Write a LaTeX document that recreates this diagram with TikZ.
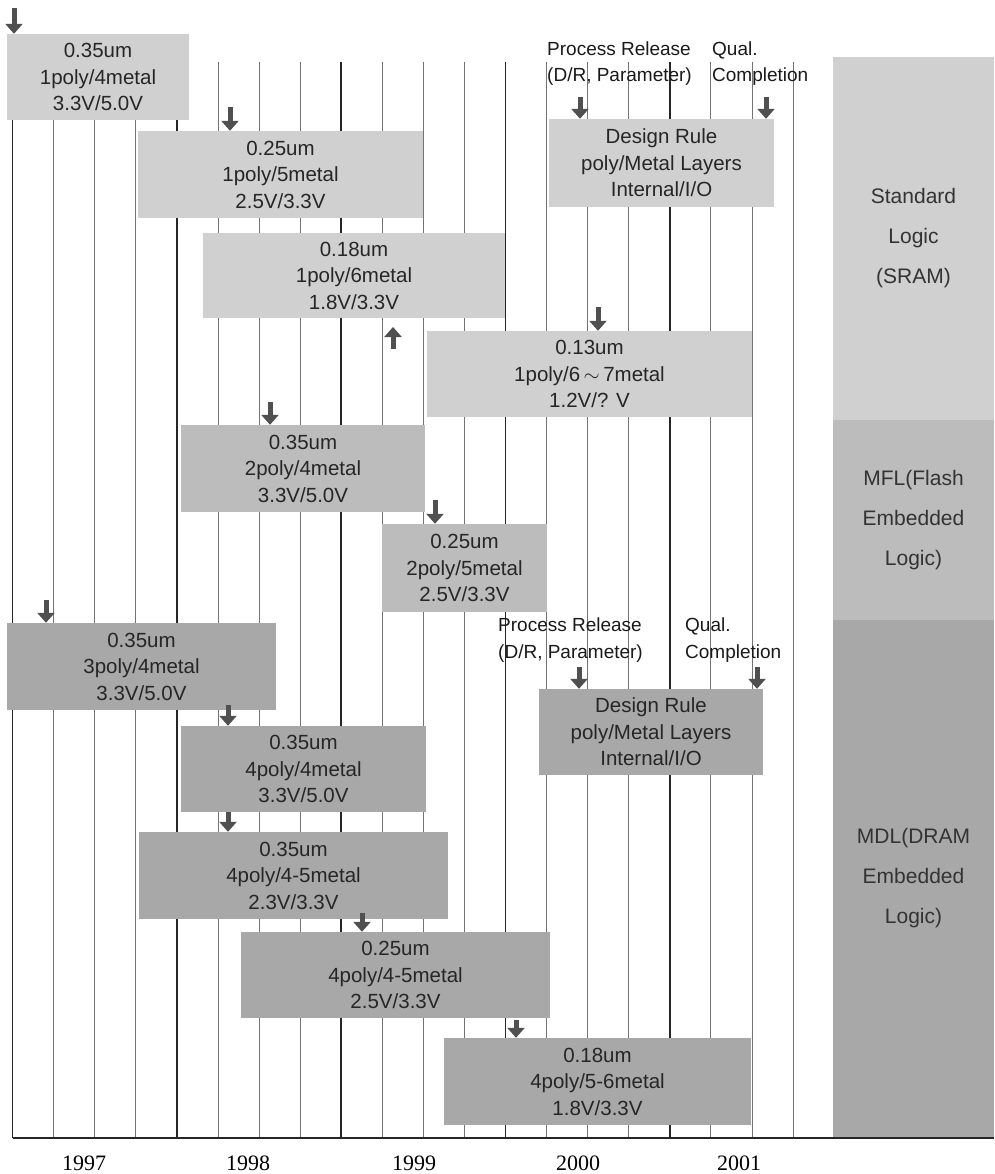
\documentclass[tikz,border=0pt]{standalone}
\usepackage{fontspec}
\setmainfont{Liberation Sans}
\newfontfamily\yearfont{Liberation Serif}
\usetikzlibrary{arrows.meta}

\definecolor{lt}{RGB}{208,208,208}
\definecolor{md}{RGB}{188,188,188}
\definecolor{dk}{RGB}{168,168,168}
\definecolor{arr}{RGB}{80,80,80}

\tikzset{
	box/.style={inner sep=0pt, align=center, text=black!85, font=\fontsize{20.5}{26.5}\selectfont},
	panel/.style={inner sep=0pt, align=center, text=black!80, minimum width=161pt, font=\fontsize{21}{40}\selectfont},
	blk/.style={draw=arr, line width=5pt, -{Triangle[width=17pt,length=10pt]}},
	thin/.style={draw=black!55, line width=0.8pt},
	bold/.style={draw=black!85, line width=1.6pt},
	lbl/.style={inner sep=0pt, align=left, text=black!90, font=\fontsize{19}{26.5}\selectfont}
}

\begin{document}
\begin{tikzpicture}[x=1pt, y=-1pt]
	\useasboundingbox (0,0) rectangle (994,1174);

	% quarter lines, bold at each year
	\foreach \i in {0,...,19} \draw[thin] (12.5+41.08*\i,62) -- (12.5+41.08*\i,1138);
	\foreach \i in {0,4,...,16} \draw[bold] (12.5+41.08*\i,62) -- (12.5+41.08*\i,1138);
	\draw[bold] (12.5,1138) -- (994,1138); % time axis

	% right hand panels
	\node[panel, fill=lt, minimum height=363pt] (std) at (913.5,238.5) {Standard\\Logic\\(SRAM)};
	\node[panel, fill=md, minimum height=200pt] (mfl) at (913.5,520) {MFL(Flash\\Embedded\\Logic)};
	\node[panel, fill=dk, minimum height=517pt] (mdl) at (913.5,878.5) {MDL(DRAM\\Embedded\\Logic)};

	% standard logic
	\node[box, fill=lt, minimum width=182pt, minimum height=86pt] (p1) at (98,77) {0.35um\\1poly/4metal\\3.3V/5.0V};
	\node[box, fill=lt, minimum width=285pt, minimum height=87pt] (p2) at (280.5,174.5) {0.25um\\1poly/5metal\\2.5V/3.3V};
	\node[box, fill=lt, minimum width=302pt, minimum height=85pt] (p3) at (354,275.5) {0.18um\\1poly/6metal\\1.8V/3.3V};
	\node[box, fill=lt, minimum width=325pt, minimum height=86pt] (p4) at (589.5,374) {0.13um\\1poly/6\,$\sim$\,7metal\\1.2V/? V};
	\node[box, fill=lt, minimum width=225pt, minimum height=88pt] (dr1) at (661.5,163) {Design Rule\\poly/Metal Layers\\Internal/I/O};

	% flash
	\node[box, fill=md, minimum width=244pt, minimum height=87pt] (f1) at (303,468.5) {0.35um\\2poly/4metal\\3.3V/5.0V};
	\node[box, fill=md, minimum width=165pt, minimum height=88pt] (f2) at (464.5,568) {0.25um\\2poly/5metal\\2.5V/3.3V};

	% dram
	\node[box, fill=dk, minimum width=269pt, minimum height=87pt] (d1) at (141.5,666.5) {0.35um\\3poly/4metal\\3.3V/5.0V};
	\node[box, fill=dk, minimum width=245pt, minimum height=86pt] (d2) at (303.5,769) {0.35um\\4poly/4metal\\3.3V/5.0V};
	\node[box, fill=dk, minimum width=309pt, minimum height=87pt] (d3) at (293.5,875.5) {0.35um\\4poly/4-5metal\\2.3V/3.3V};
	\node[box, fill=dk, minimum width=309pt, minimum height=86pt] (d4) at (395.5,975) {0.25um\\4poly/4-5metal\\2.5V/3.3V};
	\node[box, fill=dk, minimum width=307pt, minimum height=87pt] (d5) at (597.5,1081.5) {0.18um\\4poly/5-6metal\\1.8V/3.3V};
	\node[box, fill=dk, minimum width=224pt, minimum height=86pt] (dr2) at (651,732) {Design Rule\\poly/Metal Layers\\Internal/I/O};

	% milestone labels
	\node[lbl, anchor=west] (rel1) at (547,63.5) {Process Release\\(D/R, Parameter)};
	\node[lbl, anchor=west] (qual1) at (712,63.5) {Qual.\\Completion};
	\node[lbl, anchor=west] (rel2) at (498,640) {Process Release\\(D/R, Parameter)};
	\node[lbl, anchor=west] (qual2) at (685,640) {Qual.\\Completion};

	% arrows
	\coordinate (a1) at (14,8);
	\coordinate (a2) at (230,107);
	\coordinate (a3) at (598,307);
	\coordinate (a4) at (580,97);
	\coordinate (a5) at (766,97);
	\coordinate (a6) at (393,349);
	\coordinate (a7) at (393,327);
	\draw[blk] (a1) -- (a1 |- p1.north);
	\draw[blk] (a2) -- (a2 |- p2.north);
	\draw[blk] (a3) -- (a3 |- p4.north);
	\draw[blk] (a4) -- (a4 |- dr1.north);
	\draw[blk] (a5) -- (a5 |- dr1.north);
	\draw[blk] (a6) -- (a7);

	\coordinate (b1) at (270,402);
	\coordinate (b2) at (435,500);
	\draw[blk] (b1) -- (b1 |- f1.north);
	\draw[blk] (b2) -- (b2 |- f2.north);

	\coordinate (c1) at (46,600);
	\coordinate (c2) at (228,705);
	\coordinate (c3) at (228,812);
	\coordinate (c4) at (362,913);
	\coordinate (c5) at (516,1020);
	\coordinate (c6) at (579,667);
	\coordinate (c7) at (757,667);
	\draw[blk] (c1) -- (c1 |- d1.north);
	\draw[blk] (c2) -- (c2 |- d2.north);
	\draw[blk] (c3) -- (c3 |- d3.north);
	\draw[blk] (c4) -- (c4 |- d4.north);
	\draw[blk] (c5) -- (c5 |- d5.north);
	\draw[blk] (c6) -- (c6 |- dr2.north);
	\draw[blk] (c7) -- (c7 |- dr2.north);

	% years
	\foreach \yr/\xx in {1997/84, 1998/248, 1999/414, 2000/578, 2001/739}
		\node[font=\yearfont\fontsize{22}{22}\selectfont] (y\yr) at (\xx,1163) {\yr};
\end{tikzpicture}
\end{document}
